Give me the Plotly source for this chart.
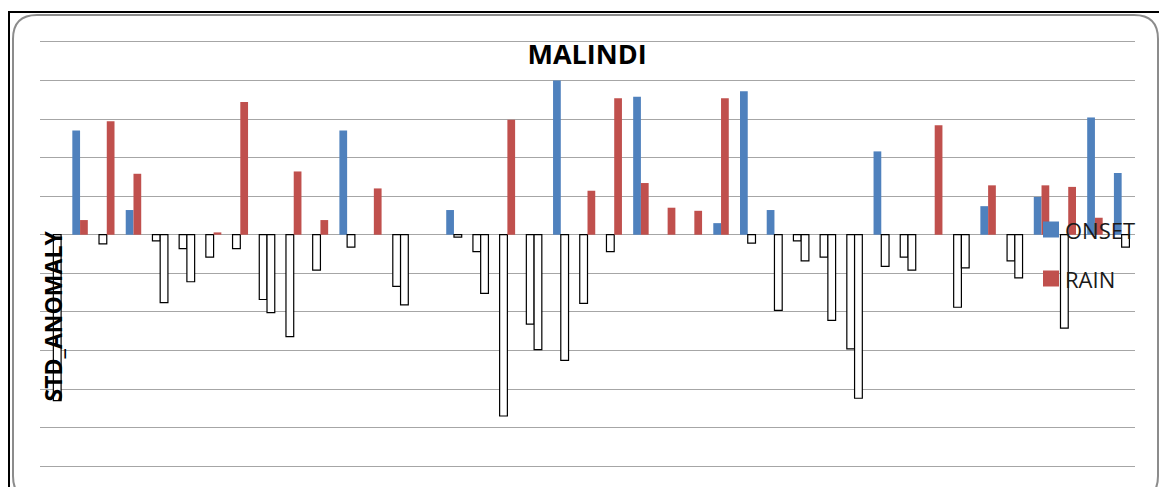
import plotly.graph_objects as go

# ---- data (standardized anomalies) ----
years = [str(y) for y in range(1971, 2012)]
onset = [0.00, 1.35, -0.12, 0.32, -0.08, -0.18, -0.29, -0.18, -0.84, -1.32,
         -0.46, 1.35, 0.00, -0.67, 0.00, 0.32, -0.22, -2.35, -1.16, 2.00,
         -0.89, -0.22, 1.79, 0.00, 0.00, 0.15, 1.86, 0.32, -0.08, -0.29,
         -1.48, 1.08, -0.29, 0.00, -0.94, 0.37, -0.34, 0.49, -1.21, 1.52,
         0.80]
rain = [-2.15, 0.19, 1.47, 0.79, -0.88, -0.61, 0.03, 1.72, -1.01, 0.82,
        0.19, -0.16, 0.60, -0.91, 0.00, -0.03, -0.76, 1.49, -1.49, -1.63,
        0.57, 1.77, 0.67, 0.35, 0.31, 1.77, -0.11, -0.98, -0.34, -1.11,
        -2.12, -0.41, -0.46, 1.42, -0.43, 0.64, -0.56, 0.64, 0.62, 0.22,
        -0.16]
series_names = ["ONSET", "RAIN"]
series_colors = ["#4F81BD", "#C0504D"]

W, H = 1159, 487
L, R, T, B = 40, 24, 38, 17
PW, PH = W - L - R, H - T - B


def px(x):
    return (x - L) / PW


def py(y):
    return (H - B - y) / PH


fig = go.Figure()
for name, vals, col in zip(series_names, [onset, rain], series_colors):
    pos = [v if v >= 0 else None for v in vals]
    neg = [v if v < 0 else None for v in vals]
    fig.add_trace(go.Bar(x=years, y=pos, name=name, offsetgroup=name,
                         marker=dict(color=col, line=dict(width=0)),
                         showlegend=False))
    fig.add_trace(go.Bar(x=years, y=neg, name=name, offsetgroup=name,
                         marker=dict(color="white", line=dict(color="black", width=1.2)),
                         showlegend=False))

shapes = []
# outer black frame
shapes.append(dict(type="rect", xref="paper", yref="paper",
                   x0=px(9), x1=px(1175), y0=py(505), y1=py(12),
                   line=dict(color="black", width=2), fillcolor="rgba(0,0,0,0)",
                   layer="below"))
# rounded grey frame
x0, x1, y0, y1, r = 13, 1158, 15, 500, 24
path = (f"M {px(x0)},{py(y0 + r)} Q {px(x0)},{py(y0)} {px(x0 + r)},{py(y0)} "
        f"L {px(x1 - r)},{py(y0)} Q {px(x1)},{py(y0)} {px(x1)},{py(y0 + r)} "
        f"L {px(x1)},{py(y1 - r)} Q {px(x1)},{py(y1)} {px(x1 - r)},{py(y1)} "
        f"L {px(x0 + r)},{py(y1)} Q {px(x0)},{py(y1)} {px(x0)},{py(y1 - r)} Z")
shapes.append(dict(type="path", xref="paper", yref="paper", path=path,
                   line=dict(color="#8C8C8C", width=2), layer="below"))

annotations = []
# manual legend
for i, (name, col) in enumerate(zip(series_names, series_colors)):
    cy = 229.5 + i * 49
    shapes.append(dict(type="rect", xref="paper", yref="paper",
                       x0=px(1043), x1=px(1059), y0=py(cy + 8), y1=py(cy - 8),
                       fillcolor=col, line=dict(width=0), layer="above"))
    annotations.append(dict(text=name, xref="paper", yref="paper",
                            x=px(1063), y=py(cy), xanchor="left", yanchor="middle",
                            showarrow=False,
                            font=dict(family="Open Sans", size=22, color="#1a1a1a")))

annotations.append(dict(text="<b>STD_ANOMALY</b>", xref="paper", yref="paper",
                        x=px(52.5), y=py(316), textangle=-90, showarrow=False,
                        xanchor="center", yanchor="middle",
                        font=dict(family="Open Sans", size=23, color="black")))

fig.update_layout(
    width=W, height=H,
    margin=dict(l=L, r=R, t=T, b=B),
    paper_bgcolor="white", plot_bgcolor="white",
    barmode="group", bargap=0.42, bargroupgap=0,
    title=dict(text="<b>MALINDI</b>", x=px(587), xref="paper", xanchor="center",
               y=1 - 55 / H, yref="container", yanchor="middle",
               font=dict(family="Open Sans", size=27, color="black")),
    xaxis=dict(showticklabels=False, ticks="", showgrid=False, showline=False,
               zeroline=False),
    yaxis=dict(range=[-3.05, 2.55], dtick=0.5, tick0=0, showticklabels=False,
               ticks="", showgrid=True, gridcolor="#A6A6A6", gridwidth=1.3,
               zeroline=True, zerolinecolor="#A6A6A6", zerolinewidth=1.3,
               showline=False),
    shapes=shapes, annotations=annotations,
    showlegend=False,
)

fig.write_html("out.html", config={"displayModeBar": False},
               post_script="document.body.style.margin='0px';")
